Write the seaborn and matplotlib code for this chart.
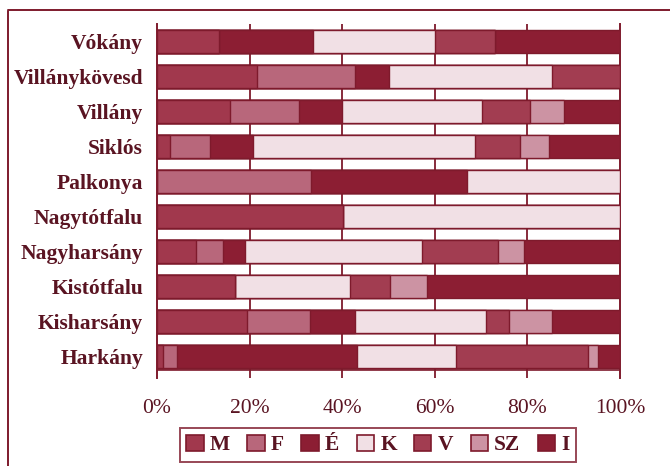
import matplotlib
matplotlib.use("Agg")
import matplotlib.pyplot as plt
import seaborn as sns
import pandas as pd
from matplotlib.lines import Line2D
from matplotlib.patches import Patch

categories = ["Vókány", "Villánykövesd", "Villány", "Siklós", "Palkonya",
              "Nagytótfalu", "Nagyharsány", "Kistótfalu", "Kisharsány", "Harkány"]
series = ["M", "F", "É", "K", "V", "SZ", "I"]
M = [13.3, 21.7, 15.8, 2.9, 0.0, 40.1, 8.5, 16.9, 19.4, 1.3]
F = [0.0, 21.1, 14.8, 8.6, 33.3, 0.0, 5.7, 0.0, 13.7, 3.0]
E = [20.4, 7.4, 9.3, 9.2, 33.6, 0.0, 4.7, 0.0, 9.7, 38.9]
K = [26.4, 35.2, 30.2, 47.9, 33.1, 59.9, 38.3, 24.8, 28.3, 21.4]
V = [12.9, 14.6, 10.5, 9.8, 0.0, 0.0, 16.5, 8.7, 5.0, 28.4]
SZ = [0.0, 0.0, 7.2, 6.3, 0.0, 0.0, 5.6, 7.9, 9.3, 2.2]
I = [27.0, 0.0, 12.2, 15.3, 0.0, 0.0, 20.7, 41.7, 14.6, 4.8]
xticks = [0, 20, 40, 60, 80, 100]
xticklabels = ["0%", "20%", "40%", "60%", "80%", "100%"]

colors = {"M": "#a1384d", "F": "#b8677b", "É": "#8c1e33", "K": "#f1e0e5",
          "V": "#a23d51", "SZ": "#cc93a3", "I": "#8c1e33"}
EDGE = "#7e1a2c"
TEXT = "#5a1422"

df = pd.DataFrame({"cat": categories, "M": M, "F": F, "É": E, "K": K,
                   "V": V, "SZ": SZ, "I": I})
cum = df[series].cumsum(axis=1)
for s in series:
    df["cum_" + s] = cum[s]

sns.set_style("white")
plt.rcParams["font.family"] = ["Liberation Serif", "DejaVu Serif"]

fig = plt.figure(figsize=(6.7, 4.66), dpi=100)
ax = fig.add_axes([157 / 670, 1 - 378 / 466, 463 / 670, (378 - 24) / 466])

for s in reversed(series):
    sns.barplot(data=df, x="cum_" + s, y="cat", order=categories, orient="h",
                color=colors[s], saturation=1, width=0.66, errorbar=None,
                edgecolor=EDGE, linewidth=1.0, ax=ax, zorder=3)

ax.set_xlim(0, 100)
ax.set_ylim(9.61, -0.5)
for g in [20, 40, 60, 80]:
    ax.axvline(g, color=EDGE, lw=1.3, zorder=1)
ax.axhline(9.37, color=EDGE, lw=1.2, zorder=2)

for side in ["top", "bottom"]:
    ax.spines[side].set_visible(False)
for side in ["left", "right"]:
    ax.spines[side].set_visible(True)
    ax.spines[side].set_color(EDGE)
    ax.spines[side].set_linewidth(1.4)

ax.set_xticks(xticks)
ax.set_xticklabels(xticklabels, fontsize=15.5, color=TEXT)
ax.set_yticks(range(len(categories)))
ax.set_yticklabels(categories, fontsize=15.5, color=TEXT, fontweight="bold")
ax.tick_params(axis="x", length=0, pad=15)
ax.tick_params(axis="y", length=0, pad=10)
ax.set_xlabel("")
ax.set_ylabel("")

handles = [Patch(facecolor=colors[s], edgecolor=EDGE, linewidth=1.2, label=s) for s in series]
leg = fig.legend(handles=handles, loc="center", bbox_to_anchor=(378 / 670, 1 - 445 / 466),
                 ncol=7, frameon=True, fancybox=False, fontsize=15.5,
                 handlelength=0.8, handleheight=0.8, handletextpad=0.3,
                 columnspacing=0.8, borderpad=0.3)
leg.get_frame().set_edgecolor(EDGE)
leg.get_frame().set_linewidth(1.4)
for t in leg.get_texts():
    t.set_color(TEXT)
    t.set_fontweight("bold")

fig.add_artist(Line2D([8 / 670, 8 / 670], [0, 1 - 11 / 466], transform=fig.transFigure,
                      color=EDGE, lw=1.4))
fig.add_artist(Line2D([8 / 670, 1], [1 - 10 / 466, 1 - 10 / 466], transform=fig.transFigure,
                      color=EDGE, lw=1.4))

fig.savefig("out.png", dpi=100)
